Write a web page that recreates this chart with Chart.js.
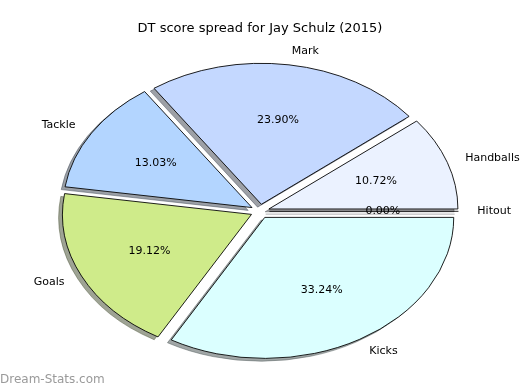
<!DOCTYPE html>
<html>
<head>
<meta charset="utf-8">
<script src="https://cdn.jsdelivr.net/npm/chart.js@4/dist/chart.umd.min.js"></script>
<style>
  html, body { margin: 0; padding: 0; background: #fff; }
  #wrap { width: 520px; height: 390px; position: relative; }
</style>
</head>
<body>
<div id="wrap"><canvas id="c" width="520" height="390"></canvas></div>
<script>
// wedges in the source's counter-clockwise order, starting at 3 o'clock
const categories = ['Handballs', 'Mark', 'Tackle', 'Goals', 'Kicks', 'Hitout'];
const values = [10.72, 23.90, 13.03, 19.12, 33.24, 0.00];
const colors = ['#ebf2ff', '#c4d8ff', '#b3d5ff', '#cfeb8a', '#dbffff', '#ebf2ff'];

const FONT = "'DejaVu Sans', sans-serif";
const EXPLODE = 0.05;    // fraction of radius
const SQUASH = 141 / 189; // vertical / horizontal radius
const SHADOW = 0.02;

function shadowOf(hex) {
  const n = parseInt(hex.slice(1), 16);
  const r = (n >> 16) & 255, g = (n >> 8) & 255, b = n & 255;
  return `rgba(${Math.round(r * 0.3)},${Math.round(g * 0.3)},${Math.round(b * 0.3)},0.5)`;
}

// Chart.js goes clockwise, so feed it reversed
const cjLabels = categories.slice().reverse();
const cjValues = values.slice().reverse();
const cjColors = colors.slice().reverse();
const total = values.reduce((a, b) => a + b, 0);

function drawArcAt(ctx, arc, dx, dy, fill, stroke) {
  ctx.save();
  ctx.translate(dx, dy);
  if (arc.circumference === 0) {
    // zero wedge: both radii collapse into one line
    ctx.beginPath();
    ctx.moveTo(arc.x, arc.y);
    ctx.lineTo(arc.x + Math.cos(arc.startAngle) * arc.outerRadius, arc.y + Math.sin(arc.startAngle) * arc.outerRadius);
    ctx.strokeStyle = stroke;
    ctx.lineWidth = 1;
    ctx.stroke();
  } else {
    const orig = arc.options;
    arc.options = Object.assign({}, orig, { backgroundColor: fill, borderColor: stroke });
    arc.draw(ctx);
    arc.options = orig;
  }
  ctx.restore();
}

const pieDraw = {
  id: 'pieDraw',
  beforeDatasetsDraw(chart) {
    const ctx = chart.ctx;
    const arcs = chart.getDatasetMeta(0).data;
    if (!arcs.length) return false;
    const cx = arcs[0].x, cy = arcs[0].y;
    ctx.save();
    ctx.translate(cx, cy);
    ctx.scale(1, SQUASH);
    ctx.translate(-cx, -cy);
    const shifts = arcs.map(a => {
      const mid = (a.startAngle + a.endAngle) / 2;
      const d = EXPLODE * a.outerRadius;
      return [Math.cos(mid) * d, Math.sin(mid) * d];
    });
    // shadows behind everything
    arcs.forEach((a, i) => {
      const s = shadowOf(cjColors[i]);
      const o = SHADOW * a.outerRadius;
      drawArcAt(ctx, a, shifts[i][0] - o, shifts[i][1] + o, s, s);
    });
    arcs.forEach((a, i) => {
      drawArcAt(ctx, a, shifts[i][0], shifts[i][1], cjColors[i], '#000');
    });
    ctx.restore();
    return false;
  },
  afterDraw(chart) {
    const ctx = chart.ctx;
    const arcs = chart.getDatasetMeta(0).data;
    ctx.save();
    ctx.fillStyle = '#000';
    ctx.font = '11px ' + FONT;
    ctx.textBaseline = 'middle';
    arcs.forEach((a, i) => {
      const mid = (a.startAngle + a.endAngle) / 2;
      const c = Math.cos(mid), s = Math.sin(mid);
      const R = a.outerRadius;
      // label outside
      const lx = a.x + c * R * (1.1 + EXPLODE);
      const ly = a.y + s * R * (1.1 + EXPLODE) * SQUASH;
      ctx.textAlign = lx > a.x ? 'left' : 'right';
      ctx.fillText(cjLabels[i], lx, ly);
      // percentage inside
      const px = a.x + c * R * (0.6 + EXPLODE);
      const py = a.y + s * R * (0.6 + EXPLODE) * SQUASH;
      ctx.textAlign = 'center';
      ctx.fillText((cjValues[i] / total * 100).toFixed(2) + '%', px, py);
    });
    // watermark
    ctx.fillStyle = '#9a9a9a';
    ctx.font = '12px ' + FONT;
    ctx.textAlign = 'left';
    ctx.fillText('Dream-Stats.com', 0, 380);
    ctx.restore();
  }
};

new Chart(document.getElementById('c'), {
  type: 'pie',
  data: {
    labels: cjLabels,
    datasets: [{ data: cjValues, backgroundColor: cjColors, borderColor: '#000', borderWidth: 1 }]
  },
  options: {
    responsive: false,
    animation: false,
    events: [],
    rotation: 90,
    radius: 189,
    layout: { padding: { top: 0, bottom: 10, left: 0, right: 0 } },
    plugins: {
      legend: { display: false },
      tooltip: { enabled: false },
      title: {
        display: true,
        text: 'DT score spread for Jay Schulz (2015)',
        color: '#000',
        font: { family: FONT, size: 13, weight: 'normal' },
        padding: { top: 21, bottom: 6 }
      }
    }
  },
  plugins: [pieDraw]
});
</script>
</body>
</html>
